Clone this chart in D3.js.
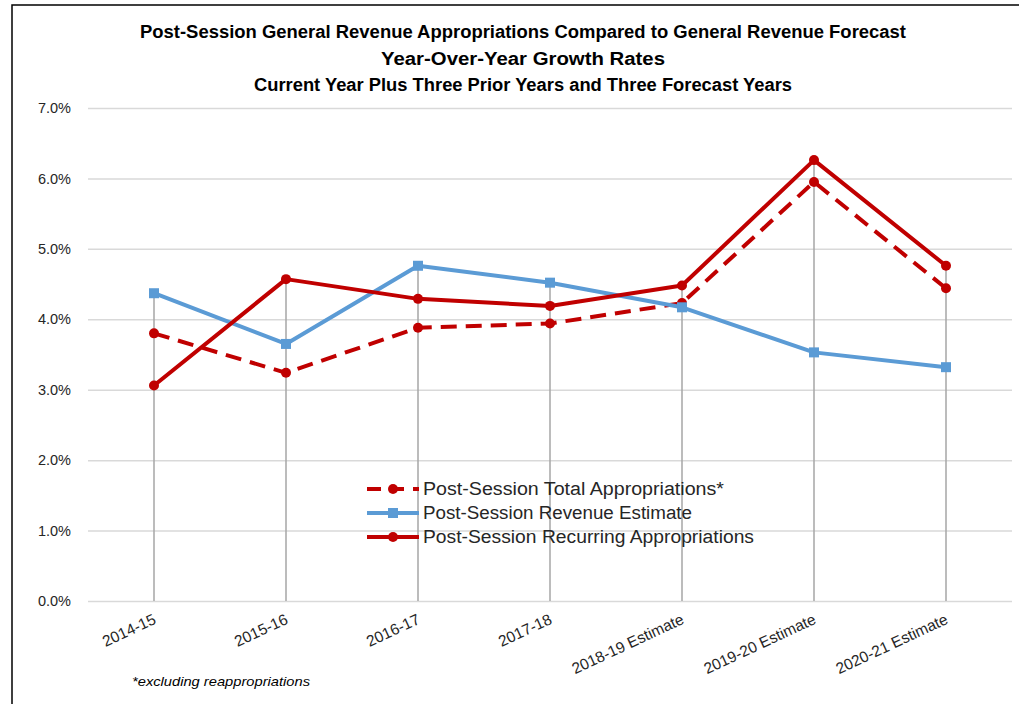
<!DOCTYPE html>
<html>
<head>
<meta charset="utf-8">
<script src="https://cdn.jsdelivr.net/npm/d3@7"></script>
<style>
  body { margin: 0; background: #fff; }
  text { font-family: "Liberation Sans Narrow", "Liberation Sans", Arial, sans-serif; }
</style>
</head>
<body>
<div id="viz"></div>
<script>
var width = 1019,
  height = 704;

// data (percent)
var categories = ['2014-15', '2015-16', '2016-17', '2017-18', '2018-19 Estimate', '2019-20 Estimate', '2020-21 Estimate'];
var totalApprop = [3.80, 3.24, 3.88, 3.94, 4.23, 5.95, 4.44];
var revenueEst = [4.37, 3.65, 4.76, 4.52, 4.17, 3.53, 3.32];
var recurringApprop = [3.06, 4.57, 4.29, 4.19, 4.48, 6.26, 4.76];
var yTicks = [0, 1, 2, 3, 4, 5, 6, 7];
var titleLines = [
  'Post-Session General Revenue Appropriations Compared to General Revenue Forecast',
  'Year-Over-Year Growth Rates',
  'Current Year Plus Three Prior Years and Three Forecast Years'
];
var legendNames = ['Post-Session Total Appropriations*', 'Post-Session Revenue Estimate', 'Post-Session Recurring Appropriations'];

var red = '#c00000',
  blue = '#5b9bd5';

var series = [
  { name: legendNames[0], values: totalApprop, color: red, dash: '16,9', marker: 'circle' },
  { name: legendNames[1], values: revenueEst, color: blue, dash: null, marker: 'square' },
  { name: legendNames[2], values: recurringApprop, color: red, dash: null, marker: 'circle' }
];

var svg = d3.select('#viz').append('svg')
  .attr('width', width)
  .attr('height', height);

// chart frame
svg.append('rect')
  .attr('x', 12)
  .attr('y', 5)
  .attr('width', width + 20)
  .attr('height', height + 20)
  .attr('fill', '#fff')
  .attr('stroke', '#000')
  .attr('stroke-width', 1.5);

var x = d3.scaleBand().domain(categories).range([88, 1012]).padding(0);
var y = d3.scaleLinear().domain([0, 7]).range([601, 108]);
function cx(c) { return x(c) + x.bandwidth() / 2; }

// title
var titleW = [766, 284, 538];
svg.selectAll('.title')
  .data(titleLines)
  .enter().append('text')
  .attr('class', 'title')
  .attr('x', 523)
  .attr('y', function (d, i) { return 38 + i * 26.5; })
  .attr('text-anchor', 'middle')
  .attr('font-size', 18)
  .attr('font-weight', 'bold')
  .attr('fill', '#000')
  .attr('textLength', function (d, i) { return titleW[i]; })
  .attr('lengthAdjust', 'spacingAndGlyphs')
  .text(function (d) { return d; });

// y gridlines + labels
var yAxis = svg.append('g')
  .attr('transform', 'translate(88,0)')
  .call(d3.axisLeft(y).tickValues(yTicks).tickSize(-924).tickPadding(17)
    .tickFormat(function (d) { return d.toFixed(1) + '%'; }));
yAxis.select('.domain').remove();
yAxis.selectAll('line').attr('stroke', '#d9d9d9').attr('stroke-width', 1.5);
yAxis.selectAll('text').attr('font-size', 14.5).attr('fill', '#262626')
  .style('font-family', '"Liberation Sans", Arial, sans-serif');

// drop lines
svg.selectAll('.drop')
  .data(categories)
  .enter().append('line')
  .attr('class', 'drop')
  .attr('x1', cx)
  .attr('x2', cx)
  .attr('y1', function (d, i) {
    return y(d3.max(series, function (s) { return s.values[i]; }));
  })
  .attr('y2', y(0))
  .attr('stroke', '#a6a6a6')
  .attr('stroke-width', 1.5);

// x axis labels
var xAxis = svg.append('g')
  .attr('transform', 'translate(0,' + y(0) + ')')
  .call(d3.axisBottom(x).tickSize(0).tickPadding(0));
xAxis.select('.domain').remove();
xAxis.selectAll('text')
  .attr('font-size', 15.5)
  .attr('fill', '#262626')
  .attr('text-anchor', 'end')
  .attr('dy', 0)
  .attr('y', 0)
  .attr('transform', 'translate(3,22) rotate(-25)')
  .style('font-family', '"Liberation Sans", Arial, sans-serif');

// lines
var line = d3.line()
  .x(function (d, i) { return cx(categories[i]); })
  .y(function (d) { return y(d); });

series.forEach(function (s) {
  var g = svg.append('g');
  g.append('path')
    .datum(s.values)
    .attr('d', line)
    .attr('fill', 'none')
    .attr('stroke', s.color)
    .attr('stroke-width', 4)
    .attr('stroke-linejoin', 'round')
    .attr('stroke-dasharray', s.dash);
  if (s.marker === 'circle') {
    g.selectAll('circle')
      .data(s.values)
      .enter().append('circle')
      .attr('cx', function (d, i) { return cx(categories[i]); })
      .attr('cy', function (d) { return y(d); })
      .attr('r', 5)
      .attr('fill', s.color);
  } else {
    g.selectAll('rect')
      .data(s.values)
      .enter().append('rect')
      .attr('x', function (d, i) { return cx(categories[i]) - 5; })
      .attr('y', function (d) { return y(d) - 5; })
      .attr('width', 10)
      .attr('height', 10)
      .attr('fill', s.color);
  }
});

// legend
var legend = svg.append('g').attr('transform', 'translate(367,489)');
var legendW = [301, 269, 331];
series.forEach(function (s, i) {
  var row = legend.append('g').attr('transform', 'translate(0,' + (i * 24) + ')');
  row.append('line')
    .attr('x1', 0).attr('x2', 52)
    .attr('y1', 0).attr('y2', 0)
    .attr('stroke', s.color)
    .attr('stroke-width', 4)
    .attr('stroke-dasharray', s.dash ? '14,9' : null);
  if (s.marker === 'circle') {
    row.append('circle').attr('cx', 26).attr('cy', 0).attr('r', 5).attr('fill', s.color);
  } else {
    row.append('rect').attr('x', 21).attr('y', -5).attr('width', 10).attr('height', 10).attr('fill', s.color);
  }
  row.append('text')
    .attr('x', 56)
    .attr('y', 6)
    .attr('font-size', 18)
    .attr('fill', '#262626')
    .attr('textLength', legendW[i])
    .attr('lengthAdjust', 'spacingAndGlyphs')
    .style('font-family', '"Liberation Sans", Arial, sans-serif')
    .text(s.name);
});

// footnote
svg.append('text')
  .attr('x', 132)
  .attr('y', 686)
  .attr('font-size', 13)
  .attr('font-style', 'italic')
  .attr('fill', '#000')
  .attr('textLength', 178)
  .attr('lengthAdjust', 'spacingAndGlyphs')
  .text('*excluding reappropriations');
</script>
</body>
</html>
